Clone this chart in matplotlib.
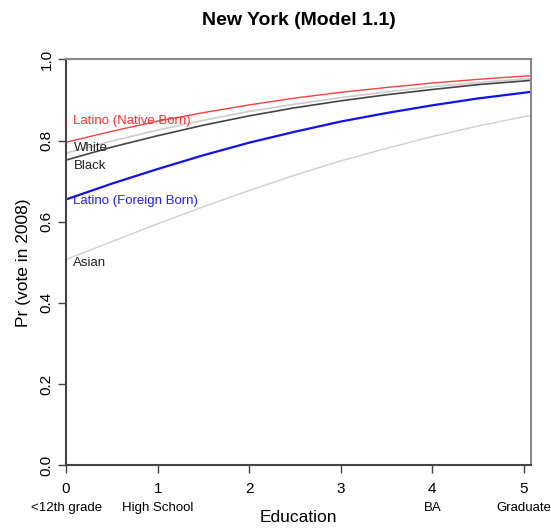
import matplotlib
matplotlib.use("Agg")
import matplotlib.pyplot as plt

plt.rcParams["font.family"] = ["Liberation Sans", "DejaVu Sans"]

edu = [0, 0.5, 1, 1.5, 2, 2.5, 3, 3.5, 4, 4.5, 5, 5.1]

# Pr(vote in 2008)
latino_native = [0.796, 0.823, 0.848, 0.869, 0.888, 0.905, 0.919, 0.931, 0.942, 0.951, 0.959, 0.960]
white = [0.769, 0.799, 0.826, 0.850, 0.872, 0.890, 0.906, 0.920, 0.933, 0.943, 0.952, 0.953]
black = [0.752, 0.784, 0.812, 0.838, 0.861, 0.881, 0.898, 0.913, 0.926, 0.938, 0.947, 0.949]
latino_foreign = [0.655, 0.694, 0.730, 0.764, 0.795, 0.822, 0.847, 0.868, 0.887, 0.904, 0.918, 0.921]
asian = [0.507, 0.551, 0.595, 0.637, 0.677, 0.715, 0.750, 0.781, 0.810, 0.836, 0.859, 0.863]

group_names = ["Latino (Native Born)", "White", "Black", "Latino (Foreign Born)", "Asian"]
label_y = [0.848, 0.782, 0.738, 0.651, 0.498]

xticks = [0, 1, 2, 3, 4, 5]
xnames = ["<12th grade", "High School", "", "", "BA", "Graduate"]
yticks = [0.0, 0.2, 0.4, 0.6, 0.8, 1.0]

fig = plt.figure(figsize=(5.51, 5.31), dpi=100)
ax = fig.add_axes([0.120, 0.124, 0.844, 0.764])

series = [latino_native, white, black, latino_foreign, asian]
line_colors = ["#ff4040", "#cccccc", "#444444", "#1010ff", "#cfcfcf"]
widths = [1.0, 1.2, 1.2, 1.6, 1.0]
text_colors = ["#ff3030", "#222222", "#222222", "#2020ff", "#222222"]

for vals, c, w in zip(series, line_colors, widths):
    ax.plot(edu, vals, color=c, lw=w, solid_capstyle="butt")

for name, yv, c in zip(group_names, label_y, text_colors):
    ax.text(0.08, yv, name, color=c, fontsize=9.5, ha="left", va="center")

ax.set_xlim(0, 5.08)
ax.set_ylim(0, 1)

ax.set_xticks(xticks)
ax.set_xticklabels([str(t) for t in xticks], fontsize=11)
ax.set_yticks(yticks)
ax.set_yticklabels(["%.1f" % t for t in yticks], fontsize=11, rotation=90, va="center")
ax.tick_params(direction="out", length=6, width=1, color="#444444")
ax.tick_params(axis="x", pad=6)
ax.tick_params(axis="y", pad=3)

for x, nm in zip(xticks, xnames):
    ax.text(x, -0.106, nm, transform=ax.get_xaxis_transform(),
            ha="center", va="center", fontsize=9.5)

ax.text(0.5, -0.128, "Education", transform=ax.transAxes,
        ha="center", va="center", fontsize=12.5)
ax.set_ylabel("Pr (vote in 2008)", fontsize=12.5, labelpad=6)
ax.set_title("New York (Model 1.1)", fontsize=14, fontweight="bold", pad=25)

ax.spines["left"].set_color("#444444")
ax.spines["bottom"].set_color("#444444")
ax.spines["top"].set_color("#888888")
ax.spines["right"].set_color("#888888")
for s in ax.spines.values():
    s.set_linewidth(1.5)

fig.savefig("out.png", dpi=100)
